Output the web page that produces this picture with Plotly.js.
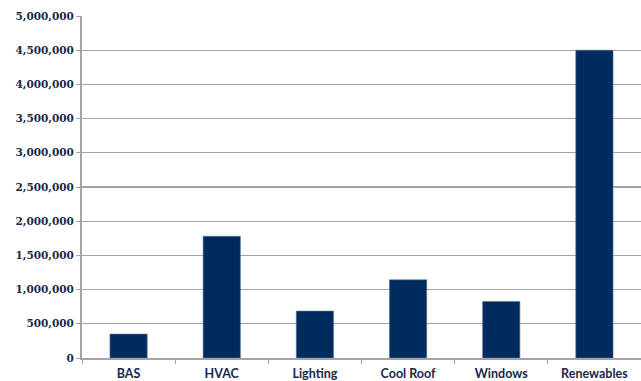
<!DOCTYPE html>
<html>
<head>
<meta charset="utf-8">
<script src="https://cdn.plot.ly/plotly-3.0.1.min.js"></script>
<style>
  html, body { margin: 0; padding: 0; background: #ffffff; }
  #chart { width: 641px; height: 381px; }
</style>
</head>
<body>
<div id="chart"></div>
<script>
// Energy measures and their values
const categories = ["BAS", "HVAC", "Lighting", "Cool Roof", "Windows", "Renewables"];
const values = [350000, 1780000, 686000, 1143000, 826000, 4500000];
const yTickValues = [0, 500000, 1000000, 1500000, 2000000, 2500000, 3000000, 3500000, 4000000, 4500000, 5000000];
const yTickLabels = ["0", "500,000", "1,000,000", "1,500,000", "2,000,000", "2,500,000", "3,000,000", "3,500,000", "4,000,000", "4,500,000", "5,000,000"];

const navy = "#002b5f";
const labelColor = "#18284a";
const gridColor = "#a4a4a8";

const trace = {
  type: "bar",
  x: categories,
  y: values,
  marker: { color: navy, line: { color: "#5a7398", width: 0.6 } },
  hoverinfo: "x+y"
};

const layout = {
  width: 641,
  height: 381,
  margin: { l: 82, r: 0, t: 16, b: 23, pad: 0 },
  paper_bgcolor: "#ffffff",
  plot_bgcolor: "#ffffff",
  bargap: 0.6,
  showlegend: false,
  xaxis: {
    type: "category",
    showgrid: false,
    showline: true,
    linecolor: gridColor,
    linewidth: 1.5,
    ticks: "outside",
    tickson: "boundaries",
    ticklen: 4,
    tickcolor: gridColor,
    ticklabelstandoff: 3,
    tickfont: { family: "Lato, 'Open Sans', sans-serif", size: 12.5, color: labelColor, weight: "bold" },
    fixedrange: true
  },
  yaxis: {
    range: [0, 5000000],
    tickmode: "array",
    tickvals: yTickValues,
    ticktext: yTickLabels,
    showgrid: true,
    gridcolor: gridColor,
    gridwidth: 1.3,
    zeroline: false,
    showline: true,
    linecolor: gridColor,
    linewidth: 2,
    ticks: "outside",
    ticklen: 4,
    tickcolor: gridColor,
    tickfont: { family: "'DejaVu Serif', serif", size: 10.5, color: labelColor, weight: "bold" },
    fixedrange: true
  }
};

Plotly.newPlot("chart", [trace], layout, { displayModeBar: false, staticPlot: true });
</script>
</body>
</html>
